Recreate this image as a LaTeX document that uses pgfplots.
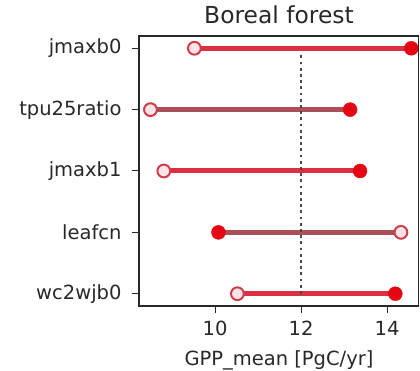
\documentclass[border=0pt]{standalone}
\usepackage{fontspec}
\setmainfont{DejaVu Sans}
\usepackage{pgfplots}
\pgfplotsset{compat=1.18}
\usetikzlibrary{calc}
\definecolor{lred}{RGB}{218,48,66}
\definecolor{lbrown}{RGB}{172,78,88}
\definecolor{mfill}{RGB}{228,6,18}
\definecolor{oedge}{RGB}{205,62,74}
\definecolor{oface}{RGB}{252,228,230}
\definecolor{axc}{RGB}{40,40,40}
\begin{document}
\begin{tikzpicture}
\begin{axis}[
  name=ax,
  scale only axis,
  width=280pt, height=270pt,
  xmin=8.233, xmax=14.74,
  ymin=-0.2, ymax=4.2,
  xtick={10,12,14},
  ytick={0,1,2,3,4},
  yticklabels={wc2wjb0,leafcn,jmaxb1,tpu25ratio,jmaxb0},
  tick pos=left,
  tick align=outside,
  major tick length=7pt,
  tick style={axc, line width=1pt},
  axis line style={axc, line width=1pt},
  /pgf/number format/assume math mode=true,
  ticklabel style={font=\fontsize{19.5}{22}\selectfont, text=axc},
  xticklabel style={yshift=-5pt},
  yticklabel style={xshift=-7pt},
  xlabel={GPP\_mean [PgC/yr]},
  xlabel style={font=\fontsize{19.5}{22}\selectfont, text=axc, yshift=-8pt},
  title={Boreal forest},
  title style={font=\fontsize{23.4}{27}\selectfont, text=axc, yshift=3pt},
  clip=false,
]
\addplot[lred, line width=5pt] coordinates {(9.52,4) (14.56,4)};
\addplot[lbrown, line width=5pt] coordinates {(8.50,3) (13.14,3)};
\addplot[lred, line width=5pt] coordinates {(8.81,2) (13.37,2)};
\addplot[lbrown, line width=5pt] coordinates {(10.08,1) (14.32,1)};
\addplot[lred, line width=5pt] coordinates {(10.52,0) (14.19,0)};
\addplot[axc!85, line width=2.8pt, dash pattern=on 2.8pt off 3.4pt] coordinates {(12,0) (12,3.9)};
\addplot[only marks, mark=*, mark size=6.4pt, mark options={draw=oedge, fill=oface, line width=2pt}]
  coordinates {(9.52,4) (8.50,3) (8.81,2) (14.32,1) (10.52,0)};
\addplot[only marks, mark=*, mark size=7pt, mark options={draw=mfill, fill=mfill}]
  coordinates {(14.56,4) (13.14,3) (13.37,2) (10.08,1) (14.19,0)};
\end{axis}
\draw[axc, line width=1.2pt] ($(ax.south west)+(0,0)$) rectangle ($(ax.north east)+(-0.6pt,0)$);
\pgfresetboundingbox
\path ($(ax.south west)+(-139pt,-65pt)$) rectangle ($(ax.north east)+(1pt,36pt)$);
\end{tikzpicture}
\end{document}
